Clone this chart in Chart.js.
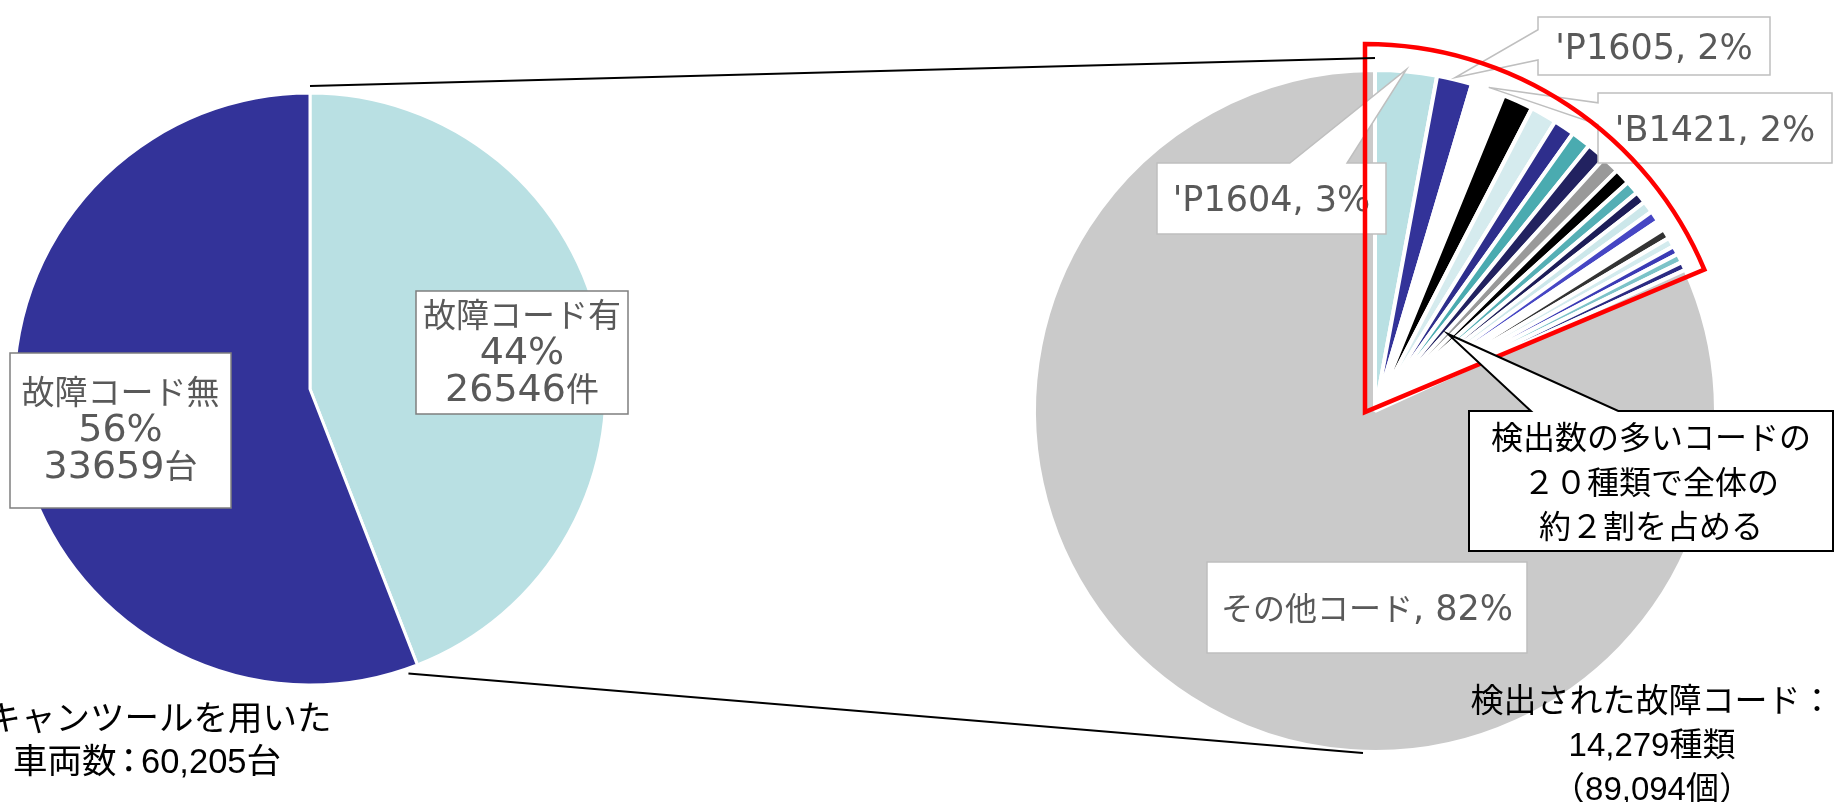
<!DOCTYPE html>
<html>
<head>
<meta charset="utf-8">
<script src="https://cdn.jsdelivr.net/npm/chart.js@4.4.1/dist/chart.umd.min.js"></script>
<style>
html,body{margin:0;padding:0;background:#fff;width:1835px;height:802px;overflow:hidden}
#wrap{position:relative;width:1835px;height:802px}
.layer{position:absolute;left:0;top:0;width:1835px;height:802px}
.txt{position:absolute;white-space:nowrap;text-align:center;color:#000;font-family:"Liberation Sans","Noto Sans CJK JP",sans-serif}
.txt span{display:block;position:relative}
.nc{display:inline !important;margin:0 -5px}
</style>
</head>
<body>
<div id="wrap">
  <div class="layer"><canvas id="leftPie"></canvas></div>
  <div class="layer"><canvas id="rightPie"></canvas></div>
  <div class="txt" id="capLeft" style="left:-48px;top:697px;width:400px;font-size:34.5px;line-height:43px;"></div>
  <div class="txt" id="capRight" style="left:1452px;top:679px;width:400px;font-size:33px;line-height:44px;"></div>
  <div class="txt" id="callText" style="left:1469px;top:413px;width:364px;font-size:32px;line-height:44.5px;font-family:'Noto Sans CJK JP',sans-serif;"></div>
</div>
<script>
// ---------------- data ----------------
const vehicleCategories = ['故障コード有', '故障コード無'];
const vehicleCounts = [26546, 33659];
const vehicleUnits = ['件', '台'];

const codeCategories = ["'P1604", "'P1605", "'B1421", '', '', '', '', '', '', '', '', '', '', '', '', '', '', '', '', '', 'その他コード'];
const codeShares = [2.92, 1.67, 1.58, 1.44, 1.25, 1.00, 0.94, 0.92, 0.83, 0.75, 0.64, 0.56, 0.56, 0.53, 0.47, 0.47, 0.44, 0.42, 0.42, 0.39, 81.80];

const leftCaption = ['キャンツールを用いた', '車両数：60,205台'];
const rightCaption = ['検出された故障コード：', '14,279種類', '（89,094個）'];
const calloutLines = ['検出数の多いコードの', '２０種類で全体の', '約２割を占める'];

// ---------------- styles ----------------
const vehicleColors = ['#B9E0E3', '#333399'];
const codeColors = ['#B9E0E3','#333399','#FFFFFF','#000000','#D5EBEE','#2E2E8C','#4AABB0','#222260','#999999','#000000',
                    '#55AFB5','#1D1D58','#CCE7EA','#4646C4','#FFFFFF','#333333','#D3EBEE','#3B3BB5','#7CC3C8','#2B2B82','#CACACA'];
const LATIN = '"DejaVu Sans"';
const CJKF = '"Noto Sans CJK JP"';

const leftLabelLayout = [
  {dx: 212, dy: -36.5, w: 212, h: 123, shift: -2},
  {dx: -189.5, dy: 41.5, w: 221, h: 155, shift: -3}
];
const rightLabelLayout = {
  0:  {dx: -103.5, dy: -212.5, w: 229, h: 71, side: 'top',  f0: 0.58, f1: 0.83},
  1:  {dx: 279,    dy: -365,   w: 232, h: 58, side: 'left', f0: 0.22, f1: 0.74},
  2:  {dx: 340,    dy: -283,   w: 234, h: 70, side: 'left', f0: 0.14, f1: 0.45},
  20: {dx: -8,     dy: 196.5,  w: 320, h: 91}
};
const calloutLayout = {dx: 94, dy: 0, w: 364, h: 140, tipDx: 73, tipDy: -77, f0: 0.17, f1: 0.41};

// ---------------- helpers ----------------
const CJK_RE = /[\u3000-\u30ff\u3400-\u9fff\uff00-\uffef]/;
function splitRuns(t) {
  const runs = [];
  for (const ch of t) {
    const c = CJK_RE.test(ch);
    if (runs.length && runs[runs.length - 1].c === c) runs[runs.length - 1].s += ch;
    else runs.push({c, s: ch});
  }
  return runs;
}
function drawMixed(ctx, text, cx, cy, latinPx, cjkPx, color) {
  const runs = splitRuns(text);
  const lf = latinPx + 'px ' + LATIN, cf = cjkPx + 'px ' + CJKF;
  let total = 0;
  for (const r of runs) { ctx.font = r.c ? cf : lf; r.w = ctx.measureText(r.s).width; total += r.w; }
  let x = cx - total / 2;
  const base = cy + 0.36 * latinPx;
  ctx.fillStyle = color; ctx.textAlign = 'left'; ctx.textBaseline = 'alphabetic';
  for (const r of runs) { ctx.font = r.c ? cf : lf; ctx.fillText(r.s, x, base); x += r.w; }
}
function boxPath(ctx, x0, y0, w, h, side, f0, f1, tip) {
  const x1 = x0 + w, y1 = y0 + h;
  ctx.beginPath();
  ctx.moveTo(x0, y0);
  if (side === 'top' && tip) { ctx.lineTo(x0 + w * f0, y0); ctx.lineTo(tip.x, tip.y); ctx.lineTo(x0 + w * f1, y0); }
  ctx.lineTo(x1, y0);
  ctx.lineTo(x1, y1);
  ctx.lineTo(x0, y1);
  if (side === 'left' && tip) { ctx.lineTo(x0, y0 + h * f1); ctx.lineTo(tip.x, tip.y); ctx.lineTo(x0, y0 + h * f0); }
  ctx.closePath();
}
function geom(chart) {
  const arcs = chart.getDatasetMeta(0).data;
  const a0 = arcs[0];
  return {x: a0.x, y: a0.y, r: a0.outerRadius, arcs};
}
function polar(g, ang, rad) { return {x: g.x + rad * Math.cos(ang), y: g.y + rad * Math.sin(ang)}; }

// ---------------- left pie ----------------
const leftLabelPlugin = {
  id: 'leftLabels',
  afterDatasetsDraw(chart) {
    const ctx = chart.ctx, g = geom(chart);
    const total = vehicleCounts.reduce((a, b) => a + b, 0);
    vehicleCounts.forEach((v, i) => {
      const L = leftLabelLayout[i];
      const cx = g.x + L.dx, cy = g.y + L.dy;
      ctx.save();
      boxPath(ctx, cx - L.w / 2, cy - L.h / 2, L.w, L.h);
      ctx.fillStyle = '#fff'; ctx.fill();
      ctx.strokeStyle = '#7F7F7F'; ctx.lineWidth = 1.5; ctx.stroke();
      const lines = [vehicleCategories[i], Math.round(v / total * 100) + '%', v + vehicleUnits[i]];
      lines.forEach((t, k) => drawMixed(ctx, t, cx, cy + L.shift + (k - 1) * 37, 38, 33, '#595959'));
      ctx.restore();
    });
  }
};

const leftChart = new Chart(document.getElementById('leftPie'), {
  type: 'pie',
  data: {labels: vehicleCategories, datasets: [{data: vehicleCounts, backgroundColor: vehicleColors, borderColor: '#FFFFFF', borderWidth: 3, hoverOffset: 0, offset: 0}]},
  options: {
    responsive: true, maintainAspectRatio: false, animation: false, events: [], devicePixelRatio: 1,
    layout: {padding: {left: 12.5, top: 91.5, right: 1227.5, bottom: 115.5}},
    plugins: {legend: {display: false}, tooltip: {enabled: false}}
  },
  plugins: [leftLabelPlugin]
});

// ---------------- right pie ----------------
const rightOverlayPlugin = {
  id: 'rightOverlay',
  afterDatasetsDraw(chart) {
    const ctx = chart.ctx, g = geom(chart);
    const total = codeShares.reduce((a, b) => a + b, 0);
    ctx.save();
    // data labels
    Object.keys(rightLabelLayout).forEach(k => {
      const i = +k, L = rightLabelLayout[i], arc = g.arcs[i];
      const mid = (arc.startAngle + arc.endAngle) / 2;
      const tip = polar(g, mid, g.r + 2);
      const cx = g.x + L.dx, cy = g.y + L.dy;
      boxPath(ctx, cx - L.w / 2, cy - L.h / 2, L.w, L.h, L.side, L.f0, L.f1, L.side ? tip : null);
      ctx.fillStyle = '#fff'; ctx.fill();
      ctx.strokeStyle = '#BFBFBF'; ctx.lineWidth = 1.5; ctx.lineJoin = 'miter'; ctx.stroke();
      const txt = codeCategories[i] + ', ' + Math.round(codeShares[i] / total * 100) + '%';
      drawMixed(ctx, txt, cx, cy, 35, 32, '#595959');
    });
    // red outline around the 20 top codes
    const lastCode = g.arcs[codeShares.length - 2];
    const rc = {x: g.x - 10, y: g.y + 1, r: g.r + 27};
    const a0 = g.arcs[0].startAngle, a1 = lastCode.endAngle + 0.03;
    ctx.beginPath();
    ctx.moveTo(rc.x, rc.y);
    ctx.lineTo(rc.x + rc.r * Math.cos(a0), rc.y + rc.r * Math.sin(a0));
    ctx.arc(rc.x, rc.y, rc.r, a0, a1, false);
    ctx.closePath();
    ctx.strokeStyle = '#FF0000'; ctx.lineWidth = 4.5; ctx.lineJoin = 'miter'; ctx.stroke();
    // callout box
    const C = calloutLayout;
    const bx = g.x + C.dx, by = g.y + C.dy;
    boxPath(ctx, bx, by, C.w, C.h, 'top', C.f0, C.f1, {x: g.x + C.tipDx, y: g.y + C.tipDy});
    ctx.fillStyle = '#fff'; ctx.fill();
    ctx.strokeStyle = '#000'; ctx.lineWidth = 2; ctx.stroke();
    // connectors between the two pies
    const lg = geom(leftChart);
    const bAng = lg.arcs[0].endAngle + 0.038;
    const p1 = {x: lg.x, y: lg.y - lg.r - 7}, q1 = {x: g.x, y: g.y - g.r - 12};
    const p2 = polar(lg, bAng, lg.r + 5), q2 = {x: g.x - 12, y: g.y + g.r + 1};
    ctx.beginPath();
    ctx.moveTo(p1.x, p1.y); ctx.lineTo(q1.x, q1.y);
    ctx.moveTo(p2.x, p2.y); ctx.lineTo(q2.x, q2.y);
    ctx.strokeStyle = '#000'; ctx.lineWidth = 2; ctx.stroke();
    ctx.restore();
  }
};

const rightChart = new Chart(document.getElementById('rightPie'), {
  type: 'pie',
  data: {labels: codeCategories, datasets: [{data: codeShares, backgroundColor: codeColors, borderColor: '#FFFFFF', borderWidth: 4, hoverOffset: 0, offset: 0}]},
  options: {
    responsive: true, maintainAspectRatio: false, animation: false, events: [], devicePixelRatio: 1,
    layout: {padding: {left: 1032, top: 68, right: 117, bottom: 48}},
    plugins: {legend: {display: false}, tooltip: {enabled: false}}
  },
  plugins: [rightOverlayPlugin]
});

// ---------------- free text ----------------
function esc(s) { return s.replace(/&/g, '&amp;').replace(/</g, '&lt;'); }
function lineHTML(s, narrowColon) {
  let h = esc(s);
  if (narrowColon) h = h.replace('：', '<span class="nc">：</span>');
  return h;
}
document.getElementById('capLeft').innerHTML =
  '<span style="left:7px">' + lineHTML(leftCaption[0]) + '</span>' +
  '<span style="left:-5px">' + lineHTML(leftCaption[1], true) + '</span>';
document.getElementById('capRight').innerHTML = rightCaption.map(s => '<span>' + lineHTML(s) + '</span>').join('');
document.getElementById('callText').innerHTML = calloutLines.map(s => '<span>' + lineHTML(s) + '</span>').join('');
</script>
</body>
</html>
